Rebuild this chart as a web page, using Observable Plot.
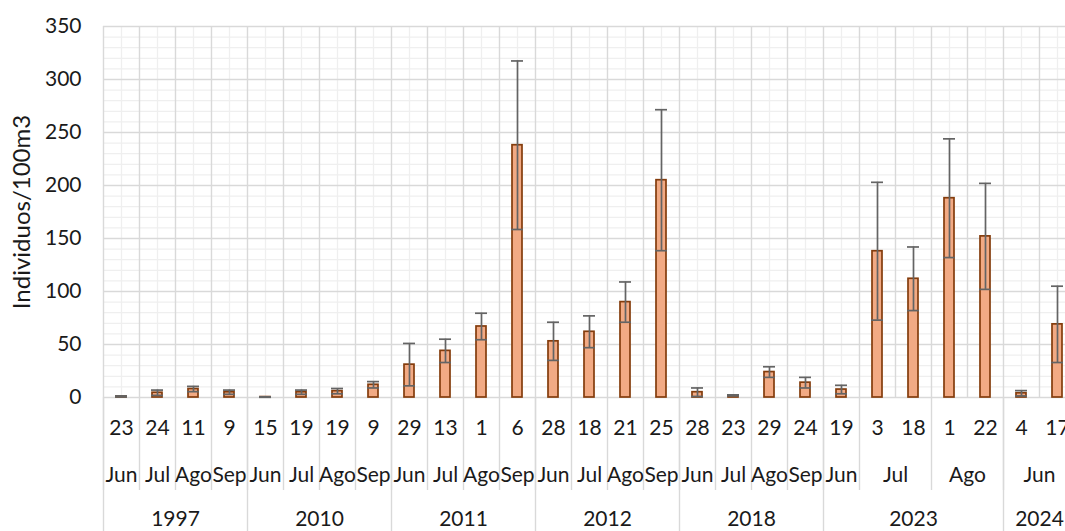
<!DOCTYPE html>
<html><head><meta charset="utf-8">
<script src="https://cdn.jsdelivr.net/npm/d3@7"></script>
<script src="https://cdn.jsdelivr.net/npm/@observablehq/plot@0.6"></script>
<style>
html,body{margin:0;padding:0;background:#fff;overflow:hidden;}
</style></head><body><div id="chart"></div>
<script>
const years  = ["1997","1997","1997","1997","2010","2010","2010","2010","2011","2011","2011","2011","2012","2012","2012","2012","2018","2018","2018","2018","2023","2023","2023","2023","2023","2024","2024"];
const months = ["Jun","Jul","Ago","Sep","Jun","Jul","Ago","Sep","Jun","Jul","Ago","Sep","Jun","Jul","Ago","Sep","Jun","Jul","Ago","Sep","Jun","Jul","Jul","Ago","Ago","Jun","Jun"];
const days   = ["23","24","11","9","15","19","19","9","29","13","1","6","28","18","21","25","28","23","29","24","19","3","18","1","22","4","17"];
const values = [1,4.5,8,5, 0.4,5,6,12, 31,44,67,238, 53,62,90,205, 5,2,24,14, 7.5,138,112,188,152, 4,69];
const errors = [0.5,2.5,2.5,2, 0.2,2,2.5,3, 20,11,12.5,79.5, 18,15,19,66.5, 4,0.5,5,5, 4,65,30,56,50, 2.5,36];
const yTicks = [0,50,100,150,200,250,300,350];
const yMinorTicks = [10,20,30,40,60,70,80,90,110,120,130,140,160,170,180,190,210,220,230,240,260,270,280,290,310,320,330,340];
const yLabel = "Individuos/100m3";

(function () {
const rows = days.map((d, i) => ({i, year: years[i], month: months[i], day: d, value: values[i], err: errors[i]}));

function groupRuns(keyFn, labelFn) {
  const out = [];
  rows.forEach(r => {
    const k = keyFn(r);
    const last = out[out.length - 1];
    if (last && last.key === k) last.end = r.i + 1;
    else out.push({key: k, label: labelFn(r), start: r.i, end: r.i + 1});
  });
  return out;
}
const monthGroups = groupRuns(r => r.year + "|" + r.month, r => r.month);
const yearGroups = groupRuns(r => r.year, r => r.year);
const monthBounds = [...monthGroups.map(g => g.start), rows.length];
const yearBounds = [...yearGroups.map(g => g.start), rows.length];
const catBounds = [...rows.map(r => r.i), rows.length];

const mLeft = 103, step = 36, mTop = 26, yBottom = 397;
const grid = "#d9d9d9", minor = "#efefef";
const font = "Lato, 'Liberation Sans', sans-serif";
const ink = "#1a1a1a";

const chart = Plot.plot({
  width: 1065, height: 531,
  marginTop: mTop, marginBottom: 531 - yBottom, marginLeft: mLeft, marginRight: 0,
  x: {type: "linear", domain: [0, rows.length], range: [mLeft, mLeft + rows.length * step], axis: null},
  y: {domain: [0, 350], axis: null},
  style: {fontFamily: font, fontSize: "21px", color: ink, background: "#fff", overflow: "hidden"},
  marks: [
    Plot.ruleY(yMinorTicks, {stroke: minor, strokeWidth: 1.3}),
    Plot.ruleX(rows, {x: d => d.i + 0.5, stroke: minor, strokeWidth: 1.3}),
    Plot.ruleY(yTicks, {stroke: grid, strokeWidth: 1.4}),
    Plot.ruleX(catBounds, {x: d => d, stroke: grid, strokeWidth: 1.4}),
    Plot.ruleX(monthBounds, {x: d => d, stroke: grid, strokeWidth: 1.4, insetTop: yBottom - mTop, insetBottom: -93}),
    Plot.ruleX(yearBounds, {x: d => d, stroke: grid, strokeWidth: 1.4, insetTop: yBottom - mTop, insetBottom: -134}),
    Plot.rectY(rows, {x1: d => d.i, x2: d => d.i + 1, y1: 0, y2: "value", insetLeft: 13, insetRight: 13,
      fill: "#F2AA84", stroke: "#843C0C", strokeWidth: 1.7}),
    Plot.ruleX(rows, {x: d => d.i + 0.5, y1: d => d.value - d.err, y2: d => d.value + d.err, stroke: "#646464", strokeWidth: 1.7}),
    Plot.ruleY(rows, {x1: d => d.i, x2: d => d.i + 1, y: d => d.value + d.err, insetLeft: 12, insetRight: 12, stroke: "#646464", strokeWidth: 1.7}),
    Plot.ruleY(rows, {x1: d => d.i, x2: d => d.i + 1, y: d => d.value - d.err, insetLeft: 12, insetRight: 12, stroke: "#646464", strokeWidth: 1.7}),
    Plot.axisY(yTicks, {tickSize: 0, tickPadding: 22, fontSize: 21, label: null, fill: ink}),
    Plot.text([yLabel], {frameAnchor: "left", dx: -81, rotate: -90, textAnchor: "middle", fontSize: 24, fill: ink}),
    Plot.text(rows, {x: d => d.i + 0.5, text: "day", frameAnchor: "bottom", dy: 37, fontSize: 21, fill: ink}),
    Plot.text(monthGroups, {x: d => (d.start + d.end) / 2, text: "label", frameAnchor: "bottom", dy: 84, fontSize: 21, fill: ink}),
    Plot.text(yearGroups, {x: d => (d.start + d.end) / 2, text: "label", frameAnchor: "bottom", dy: 128, fontSize: 21, fill: ink})
  ]
});
document.getElementById("chart").appendChild(chart);
})();
</script></body></html>
